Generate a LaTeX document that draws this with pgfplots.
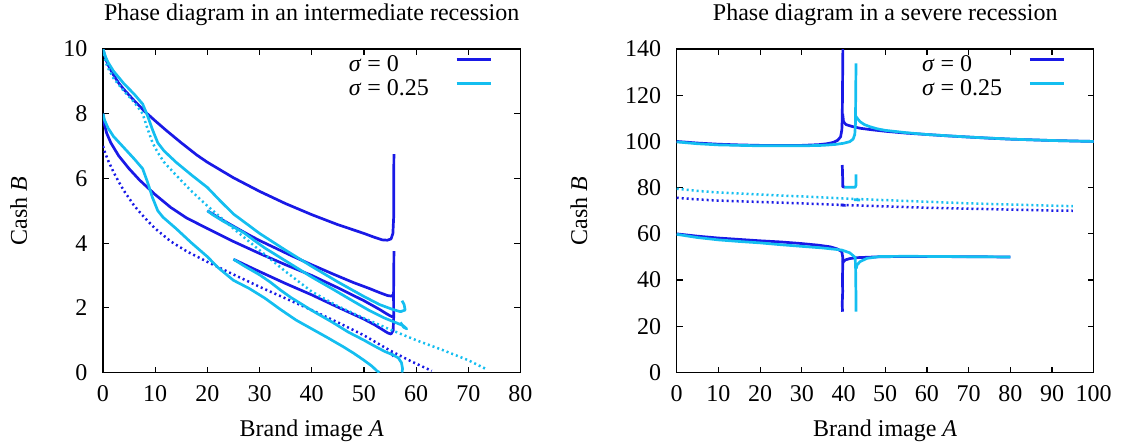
\documentclass[border=0pt]{standalone}
\usepackage{fontspec}
\setmainfont{Liberation Serif}
\usepackage{pgfplots}
\pgfplotsset{compat=1.18}

\definecolor{sigzero}{RGB}{25,25,230}
\definecolor{sigquart}{RGB}{20,190,240}

\pgfplotsset{
  every axis title shift=0pt,
  phase/.style={
    scale only axis, width=208.75pt, height=161.75pt, anchor=south west,
    tick align=inside, xtick pos=both, ytick pos=both,
    major tick length=3pt,
    every tick/.style={black, line width=0.6pt},
    axis line style={line width=0.75pt},
    /pgf/number format/assume math mode=true,
    xticklabel style={anchor=base, inner sep=0pt, yshift=-14.65pt},
    yticklabel style={anchor=east, inner sep=0pt, xshift=-7.65pt},
    title style={at={([yshift=14.5pt]axis description cs:0.5,1)}, anchor=base, inner sep=0pt},
    xlabel style={at={([yshift=-32.2pt]axis description cs:0.5,0)}, anchor=base, inner sep=0pt},
    xlabel={Brand image \textit{A}},
    ylabel={Cash \textit{B}},
    legend plot pos=right,
    legend cell align=left,
    legend image code/.code={\draw[##1] (0pt,3pt) -- (17pt,3pt);},
    legend style={at={([xshift=-14.25pt,yshift=-2.35pt]axis description cs:1,1)},
      anchor=north east, draw=none, fill=none, inner sep=0pt, outer sep=0pt,
      row sep=0pt, column sep=0pt,
      nodes={inner sep=0pt, text height=9pt, text depth=3pt}},
  },
  zs/.style={sigzero, line width=1.35pt, line join=round, forget plot},
  qs/.style={sigquart, line width=1.35pt, line join=round, forget plot},
  zd/.style={sigzero, line width=1.25pt, dash pattern=on 1pt off 1.5pt, forget plot},
  qd/.style={sigquart, line width=1.25pt, dash pattern=on 1pt off 1.5pt, forget plot},
}

\begin{document}
\fontsize{12}{14}\selectfont
\begin{tikzpicture}
\useasboundingbox (-51.5pt,-37.25pt) rectangle (509.5pt,186.25pt);

% ---------------- intermediate recession ----------------
\begin{axis}[phase, at={(0pt,0pt)},
  xmin=0, xmax=80, ymin=0, ymax=10,
  xtick={0,10,...,80}, ytick={0,2,...,10},
  title={Phase diagram in an intermediate recession},
  ylabel style={at={([xshift=-38pt]axis description cs:0,0.5)}, anchor=base, inner sep=0pt},
]
% sigma = 0
\addplot[zs] coordinates {(0,10) (0.5,9.7) (1,9.5) (2,9.2) (3,8.95) (4,8.75) (6,8.4) (8,8.07) (10,7.78) (12,7.5) (15,7.1) (18,6.72) (20,6.5) (25,6.02) (30,5.6) (35,5.22) (40,4.88) (45,4.57) (50,4.3) (52,4.18) (53.5,4.1) (54.5,4.09) (55.2,4.13) (55.55,4.3) (55.7,4.8) (55.7,5.5) (55.72,6.2) (55.75,6.75)};
\addplot[zs] coordinates {(20,5) (22,4.8) (25,4.52) (28,4.25) (30,4.08) (33,3.85) (36,3.62) (40,3.33) (44,3.05) (48,2.78) (51,2.6) (53,2.47) (54.5,2.38) (55.3,2.36) (55.7,2.42)};
\addplot[zs] coordinates {(0,8) (0.3,7.65) (0.7,7.4) (1.5,7.1) (3,6.7) (5,6.3) (7,5.95) (10,5.5) (13,5.1) (16,4.78) (20,4.45) (25,4.05) (30,3.68) (35,3.33) (40,3.0) (45,2.62) (50,2.22) (53,1.95) (54.5,1.8) (55.3,1.73) (55.7,1.75)};
\addplot[zs] coordinates {(25,3.5) (28,3.27) (30,3.12) (35,2.75) (40,2.4) (45,2.02) (50,1.65) (52,1.48) (53.5,1.33) (54.6,1.22) (55.2,1.19) (55.6,1.3) (55.7,1.7) (55.68,2.4) (55.72,3.1) (55.75,3.75)};
\addplot[zs] coordinates {(55.1,0.62) (55.7,0.5)};
\addplot[zd] coordinates {(0,7) (0.5,6.75) (1,6.55) (2,6.2) (3,5.9) (4,5.62) (6,5.15) (8,4.78) (10,4.45) (13,4.05) (16,3.75) (20,3.42) (25,3.03) (30,2.65) (35,2.29) (40,1.93) (45,1.55) (50,1.15) (55,0.68) (59,0.35) (63,0.05)};
% sigma = 0.25
\addplot[qs] coordinates {(0,10) (0.5,9.75) (1,9.58) (2,9.32) (4,8.93) (6,8.6) (7.6,8.3) (8.5,7.95) (9.5,7.5) (10.5,7.1) (11.7,6.85) (14,6.5) (17,6.1) (20,5.72) (22.5,5.3) (25,4.9) (30,4.3) (35,3.78) (40,3.28) (45,2.8) (50,2.35) (53,2.1) (55.5,1.95) (57,1.88) (57.9,1.93) (57.7,2.1) (57.3,2.22)};
\addplot[qs] coordinates {(20,5) (21,4.88) (23,4.68) (25,4.5) (27,4.32) (29,4.08) (31,3.85) (34,3.55) (37,3.25) (40,2.95) (44,2.58) (48,2.2) (51,1.92) (54,1.68) (56,1.55) (57.5,1.45) (58.2,1.35) (57.6,1.4) (57,1.55)};
\addplot[qs] coordinates {(25,3.5) (27,3.3) (30,3.02) (32,2.8) (34,2.55) (36,2.32) (40,1.92) (44,1.55) (47,1.25) (50,1.0) (52,0.82) (54,0.65) (55.5,0.55) (56.6,0.45) (57.2,0.3) (57.4,0.12) (57.3,0.0)};
\addplot[qs] coordinates {(0,8) (0.3,7.8) (1,7.55) (2,7.3) (4,6.95) (6,6.6) (7.6,6.3) (8.5,5.9) (9.5,5.4) (10.5,5.0) (11.5,4.8) (14,4.45) (17,4.0) (20,3.58) (22,3.25) (25,2.85) (28,2.6) (31,2.3) (34,1.95) (37,1.62) (40,1.35) (43,1.08) (46,0.8) (48,0.6) (50,0.38) (51.5,0.2) (52.5,0.05) (53,0)};
\addplot[qd] coordinates {(0,10) (0.5,9.6) (1,9.4) (2,9.1) (4,8.7) (6,8.35) (7.6,8.0) (8.5,7.55) (9.5,7.1) (10.5,6.8) (11.7,6.5) (14,6.1) (17,5.6) (20,5.15) (25,4.45) (30,3.78) (35,3.12) (40,2.5) (45,2.05) (50,1.68) (55,1.33) (60,1.0) (65,0.7) (70,0.38) (73.5,0.1)};
\addlegendimage{sigzero, line width=1.35pt}
\addlegendentry{\makebox[53.25pt][l]{\textit{σ} = 0}}
\addlegendimage{sigquart, line width=1.35pt}
\addlegendentry{\makebox[53.25pt][l]{\textit{σ} = 0.25}}
\end{axis}

% ---------------- severe recession ----------------
\begin{axis}[phase, at={(286.85pt,0pt)}, width=208.5pt,
  xmin=0, xmax=100, ymin=0, ymax=140,
  xtick={0,10,...,100}, ytick={0,20,...,140},
  title={Phase diagram in a severe recession},
  ylabel style={at={([xshift=-44.85pt]axis description cs:0,0.5)}, anchor=base, inner sep=0pt},
]
% sigma = 0
\addplot[zs] coordinates {(0,100) (5,99.3) (10,98.8) (15,98.5) (20,98.3) (25,98.2) (30,98.3) (34,98.6) (36,99) (37.6,99.6) (38.6,100.5) (39.3,102) (39.6,105) (39.7,110) (39.75,120) (39.8,130) (39.85,140)};
\addplot[zs] coordinates {(39.8,112) (40,108.5) (40.6,107.3) (42,106.5) (44,105.7) (47,105) (50,104.4) (55,103.6) (60,103) (65,102.4) (70,101.9) (75,101.4) (80,101) (85,100.7) (90,100.4) (95,100.2) (100,100)};
\addplot[zs] coordinates {(0,60) (5,59) (10,58.2) (15,57.6) (20,57) (25,56.5) (30,55.8) (34,55.1) (36.8,54.4) (38.5,53.5) (39.6,52.3) (39.8,50) (39.8,45) (39.75,40) (39.8,35) (39.7,30) (39.75,26.3)};
\addplot[zs] coordinates {(39.8,47.5) (40.4,48.7) (41.5,49.3) (43.2,49.7) (46,49.9) (48.8,50.1) (55,50.2) (60,50.2) (70,50.1) (80,50)};
\addplot[zs] coordinates {(39.7,89.8) (39.75,87) (39.8,84) (39.8,80.4) (40.3,80.2)};
\addplot[zs] coordinates {(39.3,72.5) (40.5,72.3)};
\addplot[zd] coordinates {(0,75.6) (5,74.9) (10,74.4) (20,73.8) (30,73.2) (40,72.5) (50,71.9) (60,71.3) (70,70.9) (80,70.5) (90,70.1) (95,70)};
% sigma = 0.25
\addplot[qs] coordinates {(0,99.8) (5,99) (10,98.5) (20,98.1) (30,98.1) (35,98.3) (38,98.7) (40,99.2) (41.5,99.9) (42.3,101) (42.7,103) (42.85,107) (42.9,115) (42.95,125) (43,133.8)};
\addplot[qs] coordinates {(42.9,111) (43.3,110) (44,108.5) (45,107.3) (46.3,106.4) (48,105.5) (50,104.8) (55,103.8) (60,103) (70,101.9) (80,101) (90,100.4) (100,100)};
\addplot[qs] coordinates {(0,59.8) (5,58.4) (10,57.4) (15,56.7) (20,56.1) (25,55.3) (30,54.6) (35,53.9) (39.6,53) (41.5,51.8) (42.8,49.8) (42.9,45) (42.95,38) (43,32) (43,26.3)};
\addplot[qs] coordinates {(43.1,45) (43.2,46.5) (44,48) (45.6,49.4) (48.8,50.2) (55,50.3) (65,50.2) (80,50)};
\addplot[qs] coordinates {(40.2,80.2) (42.8,80.2) (43,81) (43,85.8)};
\addplot[qs] coordinates {(42.5,74.8) (44,74.6)};
\addplot[qd] coordinates {(0,79.5) (5,78.6) (10,77.9) (20,77) (30,76.2) (40,75.3) (50,74.6) (60,73.9) (70,73.2) (80,72.7) (90,72.2) (95,72)};
\addlegendimage{sigzero, line width=1.35pt}
\addlegendentry{\makebox[53.25pt][l]{\textit{σ} = 0}}
\addlegendimage{sigquart, line width=1.35pt}
\addlegendentry{\makebox[53.25pt][l]{\textit{σ} = 0.25}}
\end{axis}
\end{tikzpicture}
\end{document}
